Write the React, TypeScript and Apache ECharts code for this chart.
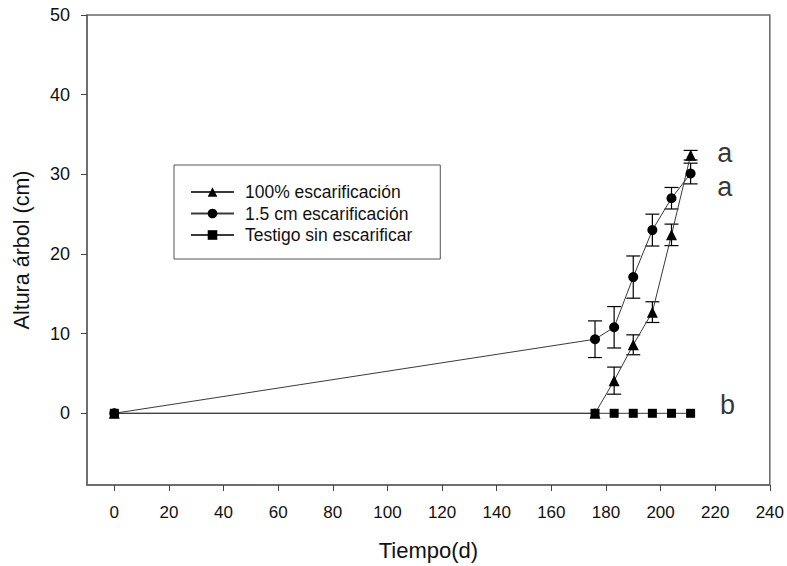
import React, { useEffect, useRef } from "react";
import * as echarts from "echarts";

const days = [0, 176, 183, 190, 197, 204, 211];
const seriesNames = ["100% escarificación", "1.5 cm escarificación", "Testigo sin escarificar"];
const triValues = [0, 0, 4.1, 8.6, 12.7, 22.4, 32.4];
const triErrors = [0, 0, 1.7, 1.25, 1.3, 1.35, 0.6];
const circValues = [0, 9.3, 10.8, 17.1, 23.0, 27.0, 30.1];
const circErrors = [0, 2.3, 2.6, 2.65, 2.0, 1.35, 1.3];
const sqValues = [0, 0, 0, 0, 0, 0, 0];
const xTicks = [0, 20, 40, 60, 80, 100, 120, 140, 160, 180, 200, 220, 240];
const yTicks = [0, 10, 20, 30, 40, 50];
const letters = [
  { day: 223.5, value: 32.7, text: "a" },
  { day: 223.5, value: 28.4, text: "a" },
  { day: 224.5, value: 1.0, text: "b" },
];

const FONT = "'Liberation Sans', Arial, sans-serif";

function errorSeries(values: number[], errors: number[]) {
  const data = days
    .map((d, i) => [d, values[i], errors[i]])
    .filter((r) => r[2] > 0);
  return {
    type: "custom",
    silent: true,
    z: 1,
    data,
    renderItem: (params: any, api: any) => {
      const x = api.value(0);
      const y = api.value(1);
      const e = api.value(2);
      const top = api.coord([x, y + e]);
      const bot = api.coord([x, y - e]);
      const hw = 7;
      const style = { stroke: "#000", lineWidth: 1.2 };
      return {
        type: "group",
        children: [
          { type: "line", shape: { x1: top[0], y1: top[1], x2: bot[0], y2: bot[1] }, style },
          { type: "line", shape: { x1: top[0] - hw, y1: top[1], x2: top[0] + hw, y2: top[1] }, style },
          { type: "line", shape: { x1: bot[0] - hw, y1: bot[1], x2: bot[0] + hw, y2: bot[1] }, style },
        ],
      };
    },
  };
}

function lineSeries(name: string, values: number[], symbol: string, size: number, z: number) {
  return {
    name,
    type: "line",
    data: days.map((d, i) => [d, values[i]]),
    symbol,
    symbolSize: size,
    showAllSymbol: true,
    z,
    lineStyle: { color: "#3a3a3a", width: 1 },
    itemStyle: { color: "#000", borderWidth: 0 },
  };
}

export default function App() {
  const ref = useRef<HTMLDivElement>(null);
  useEffect(() => {
    if (!ref.current) return;
    const chart = echarts.init(ref.current, undefined, { renderer: "svg" });
    chart.setOption({
      animation: false,
      backgroundColor: "#fff",
      grid: {
        left: 87,
        top: 15,
        right: 17,
        bottom: 81,
        show: true,
        borderColor: "#666",
        borderWidth: 1.5,
        backgroundColor: "transparent",
      },
      legend: {
        data: seriesNames,
        orient: "vertical",
        left: 174,
        top: 165,
        itemWidth: 43,
        itemHeight: 12,
        itemGap: 3.5,
        padding: [18, 28, 15, 16],
        borderColor: "#555",
        borderWidth: 1,
        textStyle: { fontFamily: FONT, fontSize: 17.5, color: "#111", padding: [0, 0, 0, 6] },
        selectedMode: false,
      },
      xAxis: {
        type: "value",
        min: -10,
        max: 240,
        interval: 10,
        name: "Tiempo(d)",
        nameLocation: "middle",
        nameGap: 54,
        nameTextStyle: { fontFamily: FONT, fontSize: 22, color: "#111" },
        axisLine: { show: true, onZero: false, lineStyle: { color: "#666", width: 1.5 } },
        axisTick: { show: true, inside: false, length: 6, customValues: xTicks, lineStyle: { color: "#444", width: 1 } },
        axisLabel: {
          show: true,
          margin: 19,
          textStyle: { fontFamily: FONT, fontSize: 17, color: "#111" },
          fontFamily: FONT,
          fontSize: 17,
          color: "#111",
          hideOverlap: false,
          formatter: (v: number) => (xTicks.indexOf(v) >= 0 ? String(v) : ""),
        },
        splitLine: { show: false },
      },
      yAxis: {
        type: "value",
        min: -9,
        max: 50,
        interval: 1,
        name: "Altura árbol (cm)",
        nameLocation: "middle",
        nameGap: 54,
        nameTextStyle: { fontFamily: FONT, fontSize: 21.5, color: "#111" },
        axisLine: { show: true, onZero: false, lineStyle: { color: "#666", width: 1.5 } },
        axisTick: { show: true, inside: false, length: 6, customValues: yTicks, lineStyle: { color: "#444", width: 1 } },
        axisLabel: {
          show: true,
          margin: 17,
          textStyle: { fontFamily: FONT, fontSize: 18, color: "#111" },
          fontFamily: FONT,
          fontSize: 18,
          color: "#111",
          hideOverlap: false,
          formatter: (v: number) => (yTicks.indexOf(v) >= 0 ? String(v) : ""),
        },
        splitLine: { show: false },
      },
      series: [
        errorSeries(triValues, triErrors),
        errorSeries(circValues, circErrors),
        lineSeries(seriesNames[0], triValues, "triangle", 11, 3),
        lineSeries(seriesNames[1], circValues, "circle", 10, 4),
        lineSeries(seriesNames[2], sqValues, "rect", 9, 5),
        {
          type: "scatter",
          silent: true,
          symbolSize: 0,
          data: letters.map((l) => [l.day, l.value]),
          label: {
            show: true,
            position: "inside",
            formatter: (p: any) => letters[p.dataIndex].text,
            fontFamily: FONT,
            fontSize: 27,
            color: "#000",
          },
        },
      ],
    });
    return () => chart.dispose();
  }, []);
  return (
    <div
      ref={ref}
      style={{ width: 787, height: 566, position: "fixed", left: 0, top: 0 }}
    />
  );
}
